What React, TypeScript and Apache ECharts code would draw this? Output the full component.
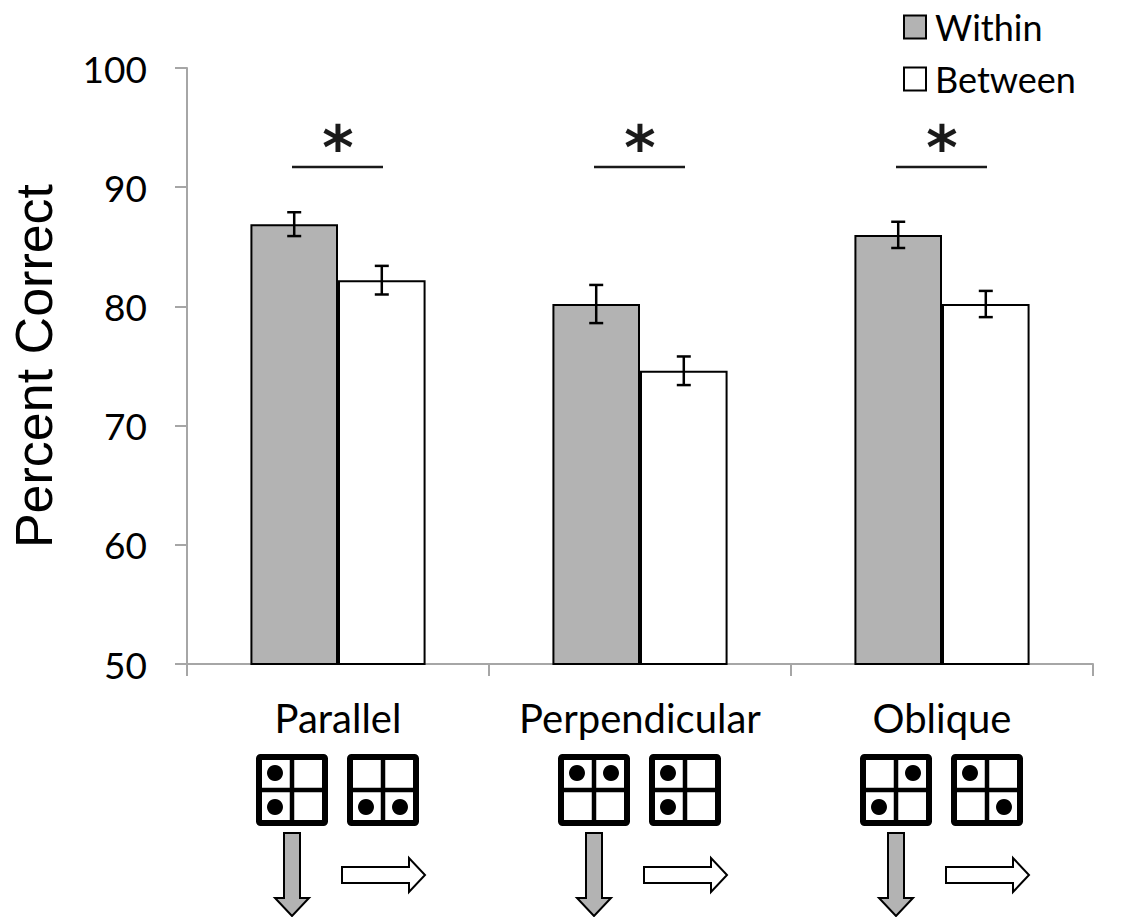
import React, { useEffect, useRef } from "react";
import * as echarts from "echarts";

const categories = ["Parallel", "Perpendicular", "Oblique"];
const seriesNames = ["Within", "Between"];
const withinValues = [86.9, 80.2, 86.0];
const betweenValues = [82.2, 74.6, 80.2];
const withinErrors = [1.0, 1.6, 1.1];
const betweenErrors = [1.2, 1.2, 1.1];
const yMin = 50;
const yMax = 100;
const yInterval = 10;
const significanceLevels = [91.7, 91.7, 91.7];
const significanceMarks = ["*", "*", "*"];
// dots per icon as [row, col]
const withinIconDots = [
  [[0, 0], [1, 0]],
  [[0, 0], [0, 1]],
  [[0, 1], [1, 0]],
];
const betweenIconDots = [
  [[1, 0], [1, 1]],
  [[0, 0], [1, 0]],
  [[0, 0], [1, 1]],
];

const BAR_GAP = 0.42;
const LABEL_FONT = "Lato, 'Open Sans', sans-serif";

export default function App() {
  const ref = useRef<HTMLDivElement>(null);
  useEffect(() => {
    document.body.style.margin = "0";
    const chart = echarts.init(ref.current!, undefined, { renderer: "svg" });

    const errorData: number[][] = [];
    categories.forEach((_, i) => {
      errorData.push([i, withinValues[i], withinErrors[i], -1]);
      errorData.push([i, betweenValues[i], betweenErrors[i], 1]);
    });
    const sigData = categories.map((_, i) => [i, significanceLevels[i]]);
    const iconData = categories.map((_, i) => [i, yMin]);

    const gridIcon = (cx: number, cy: number, dots: number[][]) => {
      const s = 66;
      const children: any[] = [
        {
          type: "rect",
          shape: { x: cx - s / 2, y: cy - s / 2, width: s, height: s, r: 1.5 },
          style: { fill: "#fff", stroke: "#000", lineWidth: 6 },
        },
        {
          type: "line",
          shape: { x1: cx, y1: cy - s / 2, x2: cx, y2: cy + s / 2 },
          style: { stroke: "#000", lineWidth: 4.5 },
        },
        {
          type: "line",
          shape: { x1: cx - s / 2, y1: cy, x2: cx + s / 2, y2: cy },
          style: { stroke: "#000", lineWidth: 4.5 },
        },
      ];
      dots.forEach(([r, c]) => {
        children.push({
          type: "circle",
          shape: { cx: cx + (c === 0 ? -17 : 17), cy: cy + (r === 0 ? -17 : 17), r: 8 },
          style: { fill: "#000" },
        });
      });
      return children;
    };

    const option: any = {
      animation: false,
      grid: { left: 185, right: 31, top: 68, bottom: 253, containLabel: false },
      legend: {
        data: seriesNames,
        orient: "vertical",
        left: 898,
        top: 3,
        icon: "rect",
        itemWidth: 22,
        itemHeight: 23,
        itemGap: 14,
        textStyle: {
          fontFamily: LABEL_FONT,
          fontSize: 36,
          color: "#000",
          lineHeight: 38,
          padding: [0, 0, 0, 4],
        },
      },
      xAxis: {
        type: "category",
        data: categories,
        axisLine: { lineStyle: { color: "#a6a6a6", width: 2 } },
        axisTick: { show: true, length: 12, lineStyle: { color: "#a6a6a6", width: 2 } },
        axisLabel: {
          interval: 0,
          hideOverlap: false,
          fontFamily: LABEL_FONT,
          fontSize: 40,
          color: "#000",
          margin: 34,
        },
      },
      yAxis: {
        type: "value",
        min: yMin,
        max: yMax,
        interval: yInterval,
        name: "Percent Correct",
        nameLocation: "middle",
        nameGap: 127,
        nameTextStyle: {
          fontFamily: "'Liberation Sans', Arial, sans-serif",
          fontSize: 52,
          color: "#000",
        },
        axisLine: { show: true, lineStyle: { color: "#a6a6a6", width: 2 } },
        axisTick: { show: true, length: 12, lineStyle: { color: "#a6a6a6", width: 2 } },
        splitLine: { show: false },
        axisLabel: {
          fontFamily: LABEL_FONT,
          fontSize: 37,
          color: "#000",
          margin: 40,
        },
      },
      series: [
        {
          name: seriesNames[0],
          type: "bar",
          data: withinValues,
          barGap: "0%",
          barCategoryGap: `${BAR_GAP * 100}%`,
          itemStyle: { color: "#b3b3b3", borderColor: "#000", borderWidth: 2 },
        },
        {
          name: seriesNames[1],
          type: "bar",
          data: betweenValues,
          barGap: "0%",
          barCategoryGap: `${BAR_GAP * 100}%`,
          itemStyle: { color: "#ffffff", borderColor: "#000", borderWidth: 2 },
        },
        {
          type: "custom",
          name: "errors",
          data: errorData,
          encode: { x: 0, y: 1 },
          z: 5,
          renderItem: (params: any, api: any) => {
            const idx = api.value(0);
            const v = api.value(1);
            const e = api.value(2);
            const side = api.value(3);
            const catW = api.size([1, 0])[0];
            const barW = (catW * (1 - BAR_GAP)) / 2;
            const x = api.coord([idx, v])[0] + (side * barW) / 2;
            const yTop = api.coord([idx, v + e])[1];
            const yBot = api.coord([idx, v - e])[1];
            const cap = 7;
            const st = { stroke: "#000", lineWidth: 2.5 };
            return {
              type: "group",
              children: [
                { type: "line", shape: { x1: x, y1: yTop, x2: x, y2: yBot }, style: st },
                { type: "line", shape: { x1: x - cap, y1: yTop, x2: x + cap, y2: yTop }, style: st },
                { type: "line", shape: { x1: x - cap, y1: yBot, x2: x + cap, y2: yBot }, style: st },
              ],
            };
          },
        },
        {
          type: "custom",
          name: "significance",
          data: sigData,
          encode: { x: 0, y: 1 },
          renderItem: (params: any, api: any) => {
            const idx = api.value(0);
            const v = api.value(1);
            const [cx, cy] = api.coord([idx, v]);
            return {
              type: "group",
              children: [
                {
                  type: "line",
                  shape: { x1: cx - 46, y1: cy, x2: cx + 45, y2: cy },
                  style: { stroke: "#1a1a1a", lineWidth: 2.5 },
                },
                {
                  type: "text",
                  x: cx,
                  y: cy - 19,
                  style: {
                    text: significanceMarks[params.dataIndex],
                    fontFamily: "'DejaVu Sans', sans-serif",
                    fontWeight: "bold",
                    fontSize: 60,
                    fill: "#1a1a1a",
                    align: "center",
                    verticalAlign: "middle",
                  },
                },
              ],
            };
          },
        },
        {
          type: "custom",
          name: "icons",
          data: iconData,
          encode: { x: 0, y: 1 },
          clip: false,
          renderItem: (params: any, api: any) => {
            const idx = api.value(0);
            const [cx, axisY] = api.coord([idx, api.value(1)]);
            const i = params.dataIndex;
            const gx1 = cx - 46;
            const gx2 = cx + 45;
            const gy = axisY + 126;
            const children: any[] = [
              ...gridIcon(gx1, gy, withinIconDots[i]),
              ...gridIcon(gx2, gy, betweenIconDots[i]),
            ];
            const t = axisY + 169;
            children.push({
              type: "polygon",
              shape: {
                points: [
                  [gx1 - 8, t],
                  [gx1 + 8, t],
                  [gx1 + 8, t + 65],
                  [gx1 + 17, t + 65],
                  [gx1, t + 83],
                  [gx1 - 17, t + 65],
                  [gx1 - 8, t + 65],
                ],
              },
              style: { fill: "#b3b3b3", stroke: "#000", lineWidth: 2 },
            });
            const ay = axisY + 211;
            const x0 = gx2 - 41;
            children.push({
              type: "polygon",
              shape: {
                points: [
                  [x0, ay - 8],
                  [x0 + 67, ay - 8],
                  [x0 + 67, ay - 17],
                  [x0 + 83, ay],
                  [x0 + 67, ay + 17],
                  [x0 + 67, ay + 8],
                  [x0, ay + 8],
                ],
              },
              style: { fill: "#fff", stroke: "#000", lineWidth: 2 },
            });
            return { type: "group", children };
          },
        },
      ],
    };
    chart.setOption(option);
    return () => chart.dispose();
  }, []);
  return <div ref={ref} style={{ width: 1124, height: 917 }} />;
}
